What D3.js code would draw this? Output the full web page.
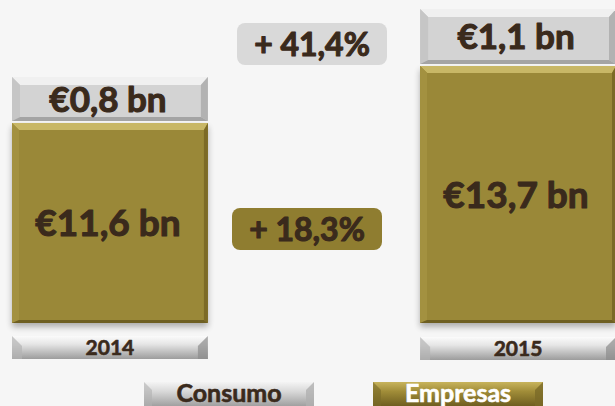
<!DOCTYPE html>
<html><head><meta charset="utf-8">
<script src="https://cdn.jsdelivr.net/npm/d3@7"></script>
<style>html,body{margin:0;padding:0;background:#f6f6f6;overflow:hidden}</style>
</head><body>
<svg id="c" width="615" height="406"></svg>
<script>
const years = ["2014", "2015"];
const consumo = [0.8, 1.1];
const empresas = [11.6, 13.7];
const consumoLabels = ["€0,8 bn", "€1,1 bn"];
const empresasLabels = ["€11,6 bn", "€13,7 bn"];
const growthLabels = ["+ 41,4%", "+ 18,3%"];
const legendNames = ["Consumo", "Empresas"];

const W = 615, H = 406;
const svg = d3.select("#c");
const FONT = "Lato, 'Open Sans', sans-serif";
const WEIGHT = 700;
const TXT = "#3a2a1c";

const defs = svg.append("defs");
const sh = defs.append("filter").attr("id","shadow").attr("x","-10%").attr("y","-10%").attr("width","120%").attr("height","130%");
sh.append("feGaussianBlur").attr("in","SourceAlpha").attr("stdDeviation",3);
sh.append("feOffset").attr("dx",0).attr("dy",4).attr("result","o");
sh.append("feComponentTransfer").append("feFuncA").attr("type","linear").attr("slope",0.3);
const mg = sh.append("feMerge"); mg.append("feMergeNode"); mg.append("feMergeNode").attr("in","SourceGraphic");

function grad(id, stops){
  const g = defs.append("linearGradient").attr("id",id).attr("x1",0).attr("y1",0).attr("x2",0).attr("y2",1);
  stops.forEach(s=>g.append("stop").attr("offset",s[0]).attr("stop-color",s[1]));
}
grad("gYear", [[0,"#fbfbfb"],[0.35,"#e6e6e6"],[1,"#9c9c9c"]]);
grad("gLegC", [[0,"#f4f4f4"],[0.4,"#d8d8d8"],[1,"#a0a0a0"]]);
grad("gLegE", [[0,"#c8b45c"],[0.4,"#a08c38"],[1,"#6e5e20"]]);

function label(g, x, y, size, fill, text, dy){
  return g.append("text").attr("x", x).attr("y", y).attr("dy", dy || "0.36em")
    .attr("text-anchor","middle").attr("font-family",FONT).attr("font-weight",WEIGHT)
    .attr("font-size",size).attr("fill",fill)
    .attr("stroke",fill).attr("stroke-width", size > 30 ? 1.1 : 0.6).attr("stroke-linejoin","round")
    .text(text);
}

// bevelled box
function bevel(g, x, y, w, h, b, br, bb, c){
  const gg = g.append("g");
  gg.append("rect").attr("x",x).attr("y",y).attr("width",w).attr("height",h).attr("fill",c.face);
  const P = pts => pts.map(p=>p.join(",")).join(" ");
  gg.append("polygon").attr("points",P([[x,y],[x+w,y],[x+w-br,y+b],[x+b,y+b]])).attr("fill",c.top);
  gg.append("polygon").attr("points",P([[x,y],[x+b,y+b],[x+b,y+h-bb],[x,y+h]])).attr("fill",c.left);
  gg.append("polygon").attr("points",P([[x+w,y],[x+w,y+h],[x+w-br,y+h-bb],[x+w-br,y+b]])).attr("fill",c.right);
  gg.append("polygon").attr("points",P([[x,y+h],[x+b,y+h-bb],[x+w-br,y+h-bb],[x+w,y+h]])).attr("fill",c.bottom);
  return gg;
}
const grayC = {face:"#d3d3d3", top:"#f0f0f0", left:"#c6c6c6", right:"#b2b2b2", bottom:"#a4a4a4"};
const oliveC = {face:"#9a8837", top:"#c8b766", left:"#a39140", right:"#7b6a27", bottom:"#6e5e22"};

const x = d3.scaleBand().domain(years).range([12, 616]).paddingInner(0.52).paddingOuter(0);
const baseY = 323;
const hEmp = d3.scaleLinear().domain([4.23, 13.7]).range([0, 257]);
const hCon = d3.scaleLinear().domain([-0.4, 1.1]).range([0, 55]);
const gap = 2;

const bars = svg.append("g");
years.forEach((yr, i) => {
  const bx = x(yr), bw = x.bandwidth();
  const he = hEmp(empresas[i]);
  const ye = baseY - he;
  const hc = hCon(consumo[i]);
  const yc = ye - gap - hc;
  const ge = bevel(bars, bx, ye, bw, he, 7, 4, 3, oliveC);
  ge.attr("filter","url(#shadow)");
  bevel(bars, bx, yc, bw, hc, 8, 7, 4, grayC);
  label(bars, bx + bw/2 - 2, ye + he/2, 37, TXT, empresasLabels[i]);
  label(bars, bx + bw/2 - 2, yc + hc/2, 35, TXT, consumoLabels[i]);
  // year label box
  const yy = 336 + i, yh = 23;
  bars.append("rect").attr("x",bx).attr("y",yy).attr("width",bw).attr("height",yh).attr("fill","url(#gYear)");
  bars.append("polygon").attr("points",`${bx},${yy} ${bx+10},${yy+10} ${bx+10},${yy+yh} ${bx},${yy+yh}`).attr("fill","#b4b4b4").attr("opacity",0.7);
  bars.append("polygon").attr("points",`${bx+bw},${yy} ${bx+bw-10},${yy+10} ${bx+bw-10},${yy+yh} ${bx+bw},${yy+yh}`).attr("fill","#8c8c8c").attr("opacity",0.7);
  label(bars, bx + bw/2, yy + yh/2, 21, TXT, yr, "0.38em");
});

// growth badges
const badges = [
  {label: growthLabels[0], cx: 312, y: 23, fill: "#d9d9d9"},
  {label: growthLabels[1], cx: 307, y: 208, fill: "#8f7d30"}
];
badges.forEach(b => {
  svg.append("rect").attr("x", b.cx - 75).attr("y", b.y).attr("width",150).attr("height",42)
    .attr("rx",8).attr("fill",b.fill);
  label(svg, b.cx, b.y + 21, 32, TXT, b.label);
});

// legend
const leg = [
  {name: legendNames[0], x: 144, fill:"url(#gLegC)", txt: TXT, side:"#b0b0b0"},
  {name: legendNames[1], x: 373, fill:"url(#gLegE)", txt: "#ffffff", side:"#7a6a28"}
];
leg.forEach(l => {
  const lw = 170, ly = 382, lh = 24;
  svg.append("rect").attr("x",l.x).attr("y",ly).attr("width",lw).attr("height",lh).attr("fill",l.fill);
  svg.append("polygon").attr("points",`${l.x},${ly} ${l.x+8},${ly+8} ${l.x+8},${ly+lh} ${l.x},${ly+lh}`).attr("fill",l.side).attr("opacity",0.6);
  svg.append("polygon").attr("points",`${l.x+lw},${ly} ${l.x+lw-8},${ly+8} ${l.x+lw-8},${ly+lh} ${l.x+lw},${ly+lh}`).attr("fill",l.side).attr("opacity",0.8);
  label(svg, l.x + lw/2, 402, 25, l.txt, l.name, "0");
});
</script>
</body></html>
